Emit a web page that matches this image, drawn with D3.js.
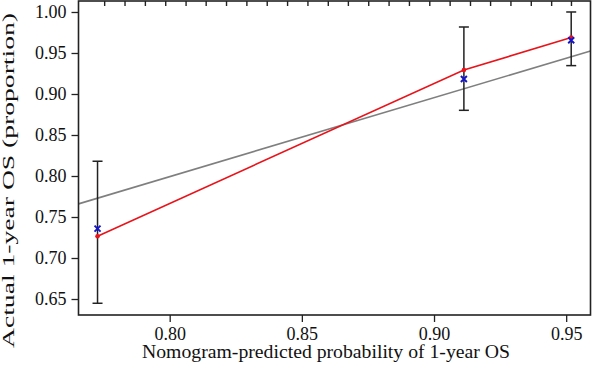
<!DOCTYPE html>
<html><head><meta charset="utf-8">
<script src="https://cdn.jsdelivr.net/npm/d3@7"></script>
<style>body{margin:0;background:#fff}svg{display:block}text{font-family:"Liberation Serif","DejaVu Serif",serif;fill:#111}</style>
</head><body><svg id="c" width="600" height="378"></svg>
<script>
const predicted = [0.7727, 0.9113, 0.9519];
const observed = [0.7265, 0.9293, 0.9688];
const corrected = [0.7359, 0.9183, 0.9655];
const ciLow = [0.6448, 0.8801, 0.9346];
const ciHigh = [0.8180, 0.9817, 1.0000];
const idealLine = [[0.7655, 0.7660], [0.9592, 0.9525]];
const rug = [0.7754,0.7831,0.7908,0.7985,0.8062,0.8138,0.8215,0.8292,0.8369,0.8446,0.8523,0.8600,0.8676,0.8753,0.8830,0.8907,0.8984,0.9061,0.9138,0.9214,0.9291,0.9368,0.9445,0.9520];
const xTicks = [0.80, 0.85, 0.90, 0.95];
const yTicks = [0.65, 0.70, 0.75, 0.80, 0.85, 0.90, 0.95, 1.00];
const xTitle = "Nomogram-predicted probability of 1-year OS";
const yTitle = "Actual 1-year OS (proportion)";

const L = 78.5, R = 590.5, T = 1, B = 315;
const x = d3.scaleLinear().domain([0.7655, 0.9592]).range([L, R]);
const y = d3.scaleLinear().domain([0.6305, 1.0134]).range([B, T]);
const svg = d3.select("#c");

const xa = svg.append("g").attr("transform", `translate(0,${B})`)
  .call(d3.axisBottom(x).tickValues(xTicks).tickFormat(d3.format(".2f")).tickSizeOuter(0).tickSize(7).tickPadding(5));
const ya = svg.append("g").attr("transform", `translate(${L},0)`)
  .call(d3.axisLeft(y).tickValues(yTicks).tickFormat(d3.format(".2f")).tickSizeOuter(0).tickSize(7).tickPadding(5));
[xa, ya].forEach(a => {
  a.select(".domain").remove();
  a.selectAll("line").attr("stroke", "#222").attr("stroke-width", 1.3);
  a.selectAll("text").attr("font-size", 18).attr("fill", "#111").style("font-family", '"Liberation Serif", serif');
});

// ideal line
svg.append("line")
  .attr("x1", x(idealLine[0][0])).attr("y1", y(idealLine[0][1]))
  .attr("x2", x(idealLine[1][0])).attr("y2", y(idealLine[1][1]))
  .attr("stroke", "#7f7f7f").attr("stroke-width", 1.6);

// error bars
const idx = d3.range(predicted.length);
idx.forEach(i => {
  const px = x(predicted[i]);
  svg.append("line").attr("x1", px).attr("x2", px).attr("y1", y(ciLow[i])).attr("y2", y(ciHigh[i]))
    .attr("stroke", "#222").attr("stroke-width", 1.5);
  [ciLow[i], ciHigh[i]].forEach(v => {
    svg.append("line").attr("x1", px - 5).attr("x2", px + 5).attr("y1", y(v)).attr("y2", y(v))
      .attr("stroke", "#222").attr("stroke-width", 1.5);
  });
});

// red line
svg.append("path").datum(idx)
  .attr("d", d3.line().x(i => x(predicted[i])).y(i => y(observed[i])))
  .attr("fill", "none").attr("stroke", "#e8141b").attr("stroke-width", 1.6);
svg.selectAll("circle.dot").data(idx).enter().append("circle").attr("class", "dot")
  .attr("cx", i => x(predicted[i])).attr("cy", i => y(observed[i])).attr("r", 2.3).attr("fill", "#e8141b");

// blue x marks
idx.forEach(i => {
  const px = x(predicted[i]), py = y(corrected[i]), s = 3;
  svg.append("path").attr("d", `M${px-s},${py-s}L${px+s},${py+s}M${px-s},${py+s}L${px+s},${py-s}`)
    .attr("stroke", "#1414c8").attr("stroke-width", 1.9);
});

// box
svg.append("rect").attr("x", L).attr("y", T).attr("width", R - L).attr("height", B - T)
  .attr("fill", "none").attr("stroke", "#222").attr("stroke-width", 1.6);

// rug at top (inward ticks)
svg.append("g").attr("class", "rug-g").selectAll("line").data(rug).join("line")
  .attr("x1", d => x(d)).attr("x2", d => x(d)).attr("y1", T).attr("y2", T + 5)
  .attr("stroke", "#222").attr("stroke-width", 1.4);

svg.append("text").attr("x", 326).attr("y", 358).attr("text-anchor", "middle")
  .attr("font-size", 18).attr("textLength", 368).attr("lengthAdjust", "spacingAndGlyphs").text(xTitle);
svg.append("text").attr("transform", `translate(13.5,${180.5}) rotate(-90)`).attr("text-anchor", "middle")
  .attr("font-size", 16).attr("textLength", 335).attr("lengthAdjust", "spacingAndGlyphs").text(yTitle);
</script></body></html>
